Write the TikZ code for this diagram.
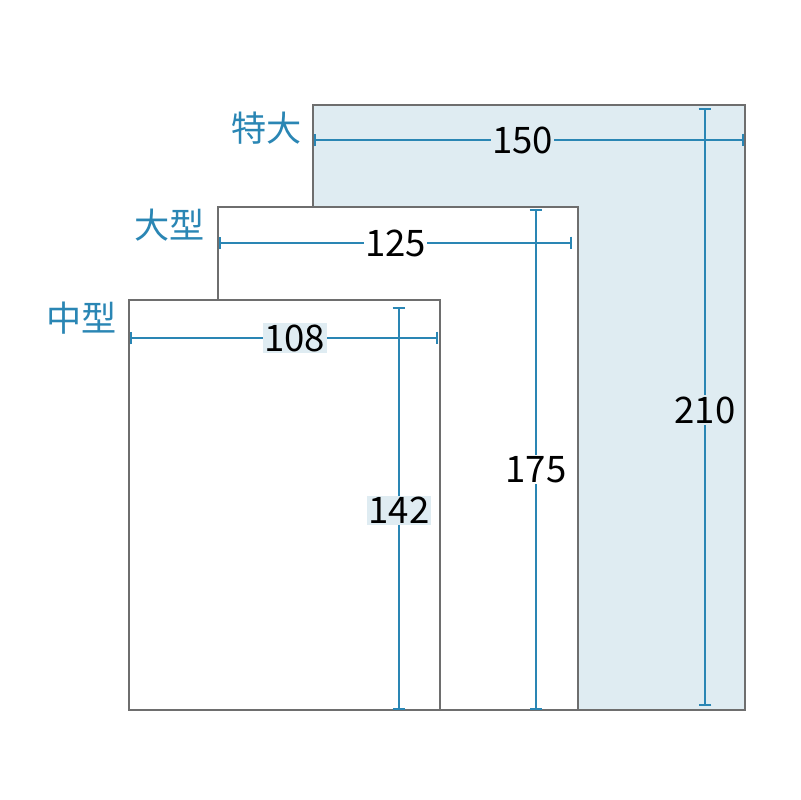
\documentclass[tikz,border=0pt]{standalone}
\usepackage{fontspec}
\setmainfont{Noto Sans CJK JP}
\usetikzlibrary{arrows.meta}
\definecolor{dimblue}{HTML}{2A86B4}
\definecolor{paleblue}{HTML}{DFECF2}
\definecolor{edgegray}{HTML}{6E6E6E}
\tikzset{
    sheet/.style={draw=edgegray, line width=1.3pt},
    dimline/.style={draw=dimblue, line width=1.3pt, {Bar[width=9pt]}-{Bar[width=9pt]}},
    dimlabel/.style={font=\fontsize{26}{28}\selectfont, text=black, inner sep=1pt},
    sizename/.style={font=\fontsize{25}{27}\selectfont, text=dimblue, anchor=east, inner sep=0pt},
}
\begin{document}
\begin{tikzpicture}[x=0.025cm,y=-0.025cm]
\useasboundingbox (0,0) rectangle (800,800);
% the three sheets
\draw[sheet,fill=paleblue] (313,105) rectangle (745,710);
\draw[sheet,fill=white] (218,207) rectangle (578,710);
\draw[sheet,fill=white] (129,300) rectangle (440,710);
% size names
\node[sizename] (xl-name) at (302,128) {特大};
\node[sizename] (l-name) at (205,225) {大型};
\node[sizename] (m-name) at (117,318) {中型};
% end points of the dimension lines
\coordinate (xl-w0) at (314,140);
\coordinate (xl-w1) at (744,140);
\coordinate (xl-h0) at (705,108);
\coordinate (xl-h1) at (705,706);
\coordinate (l-w0) at (219,243);
\coordinate (l-w1) at (572,243);
\coordinate (l-h0) at (536,209);
\coordinate (l-h1) at (536,710);
\coordinate (m-w0) at (130,338);
\coordinate (m-w1) at (438,338);
\coordinate (m-h0) at (399,307);
\coordinate (m-h1) at (399,710);
% dimension lines
\draw[dimline] (xl-w0) -- (xl-w1);
\draw[dimline] (xl-h0) -- (xl-h1);
\draw[dimline] (l-w0) -- (l-w1);
\draw[dimline] (l-h0) -- (l-h1);
\draw[dimline] (m-w0) -- (m-w1);
\draw[dimline] (m-h0) -- (m-h1);
% dimension labels
\path (xl-w0) -- node[dimlabel,fill=paleblue,pos=0.485] (xl-wl) {150} (xl-w1);
\path (xl-h0) -- node[dimlabel,fill=paleblue,pos=0.505] (xl-hl) {210} (xl-h1);
\path (l-w0) -- node[dimlabel,fill=white] (l-wl) {125} (l-w1);
\path (l-h0) -- node[dimlabel,fill=white,pos=0.52] (l-hl) {175} (l-h1);
\path (m-w0) -- node[dimlabel,fill=paleblue,pos=0.535] (m-wl) {108} (m-w1);
\path (m-h0) -- node[dimlabel,fill=paleblue,pos=0.505] (m-hl) {142} (m-h1);
\end{tikzpicture}
\end{document}
